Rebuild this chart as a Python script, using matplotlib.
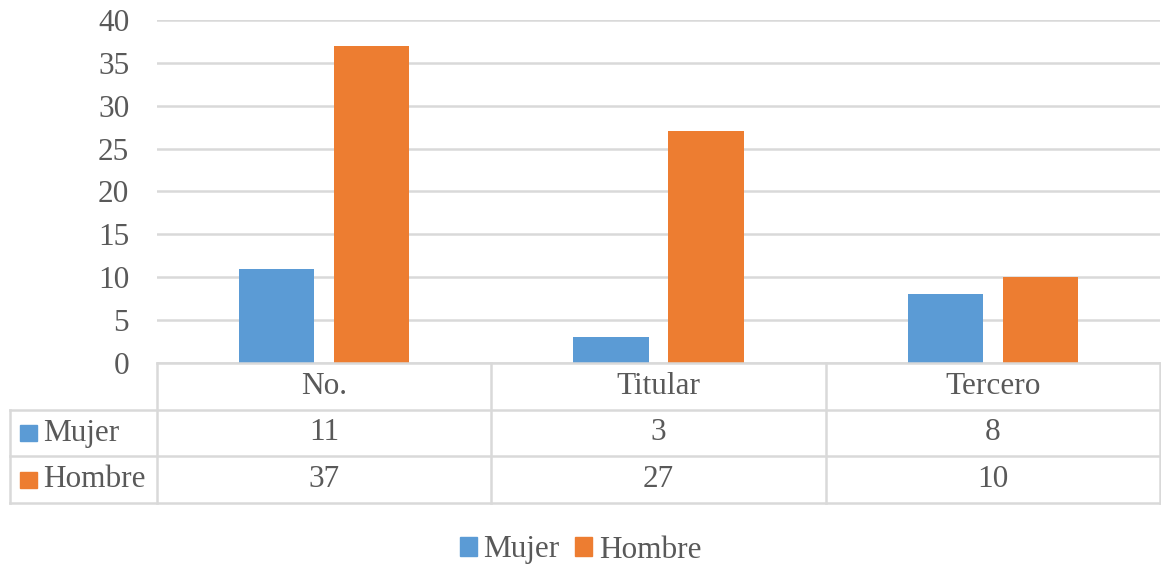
import numpy as np
import matplotlib.pyplot as plt
from matplotlib.patches import Rectangle

# -------------------------
# DATA
# -------------------------

categories = ["No.", "Titular", "Tercero"]
series_names = ["Mujer", "Hombre"]
mujer = [11, 3, 8]
hombre = [37, 27, 10]
y_ticks = [0, 5, 10, 15, 20, 25, 30, 35, 40]

COLORS = ["#5B9BD5", "#ED7D31"]
TEXT = "#595959"
GRID = "#D9D9D9"
FONT = "Liberation Serif"
FS = 22.5

plt.rcParams["font.family"] = [FONT, "DejaVu Serif"]

W, H = 1161, 569
fig = plt.figure(figsize=(W / 100, H / 100), dpi=100)

def px_box(x0, y0, x1, y1):
    # pixel box (top-left origin) -> figure fraction
    return [x0 / W, 1 - y1 / H, (x1 - x0) / W, (y1 - y0) / H]

# -------------------------
# BAR AREA
# -------------------------

ax = fig.add_axes(px_box(157, 20, 1160, 363))
x = np.arange(len(categories))
bw = 0.225
off = 0.142
ax.bar(x - off, mujer, bw, color=COLORS[0], zorder=3)
ax.bar(x + off, hombre, bw, color=COLORS[1], zorder=3)

ax.set_xlim(-0.5, len(categories) - 0.5)
ax.set_ylim(0, 40)
ax.set_yticks(y_ticks)
ax.set_xticks([])
ax.yaxis.grid(True, color=GRID, linewidth=1.8)
ax.set_axisbelow(True)
for s in ax.spines.values():
    s.set_visible(False)
ax.tick_params(axis="y", length=0, pad=20, labelsize=FS, labelcolor=TEXT)

# -------------------------
# DATA TABLE
# -------------------------

unit_px = (1160 - 157) / len(categories)
left_ext = (157 - 10) / unit_px
tx = fig.add_axes(px_box(10, 363, 1160, 503))
tx.set_xlim(-0.5 - left_ext, len(categories) - 0.5)
tx.set_ylim(3, 0)
tx.axis("off")

lw = 1.8
x_left = -0.5 - left_ext
x_right = len(categories) - 0.5
# horizontal lines
tx.plot([-0.5, x_right], [0, 0], color=GRID, lw=lw, clip_on=False)
for r in [1, 2, 3]:
    tx.plot([x_left, x_right], [r, r], color=GRID, lw=lw, clip_on=False)
# vertical lines
tx.plot([x_left, x_left], [1, 3], color=GRID, lw=lw, clip_on=False)
for i in range(len(categories) + 1):
    tx.plot([i - 0.5, i - 0.5], [0, 3], color=GRID, lw=lw, clip_on=False)

for i, c in enumerate(categories):
    tx.text(i, 0.5, c, ha="center", va="center", fontsize=FS, color=TEXT)
for r, (name, vals) in enumerate(zip(series_names, [mujer, hombre])):
    sq_w = 17 / unit_px
    tx.add_patch(Rectangle((x_left + 10 / unit_px, r + 1.5 - 0.17), sq_w, 0.34,
                           color=COLORS[r], clip_on=False))
    tx.text(x_left + 33 / unit_px, r + 1.5, name, ha="left", va="center",
            fontsize=FS, color=TEXT)
    for i, v in enumerate(vals):
        tx.text(i, r + 1.5, str(v), ha="center", va="center", fontsize=FS, color=TEXT)

# -------------------------
# LEGEND
# -------------------------

handles = [Rectangle((0, 0), 1, 1, color=c) for c in COLORS]
fig.legend(handles, series_names, loc="center", bbox_to_anchor=(0.5, 19 / H),
           ncol=2, frameon=False, fontsize=FS, labelcolor=TEXT,
           handlelength=0.55, handleheight=0.55, handletextpad=0.2, columnspacing=0.5)

fig.savefig("out.png", dpi=100)
